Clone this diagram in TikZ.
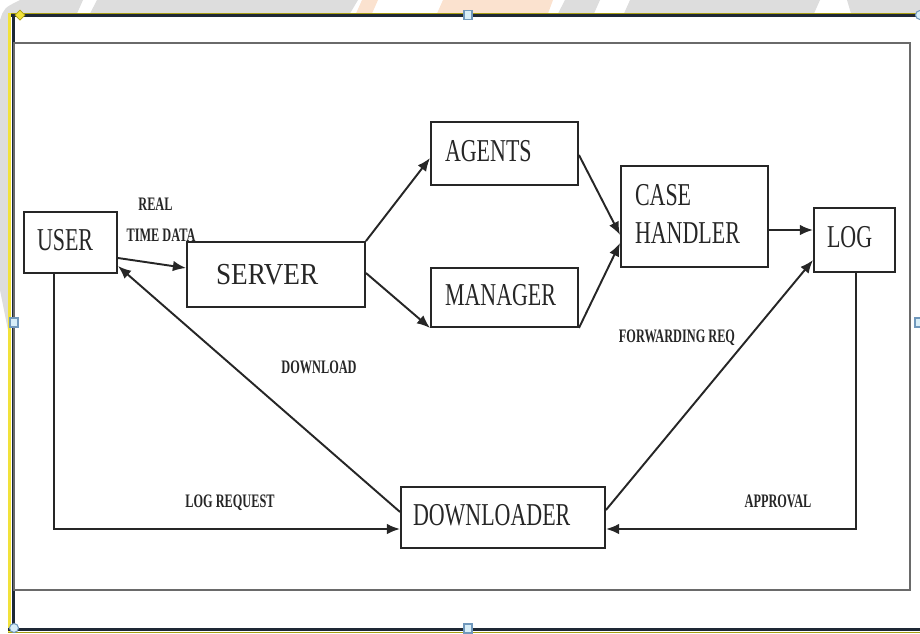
\documentclass[tikz,border=0pt]{standalone}
\usepackage{fontspec}
\setmainfont{Liberation Serif}
\usepackage{graphicx}
\usetikzlibrary{arrows.meta}

\definecolor{ink}{HTML}{262626}
\definecolor{framegray}{HTML}{6A6A6A}
\definecolor{navy}{HTML}{1E2835}
\definecolor{olive}{HTML}{A89E12}
\definecolor{brightyellow}{HTML}{F2E23A}
\definecolor{wm}{HTML}{DDDDDD}
\definecolor{wmorange}{HTML}{FBE2CF}
\definecolor{handlefill}{HTML}{D8EEF8}
\definecolor{handleedge}{HTML}{7098BC}

% box captions: Times-like, tall and narrow
\newcommand{\boxlbl}[1]{\scalebox{1}[1.45]{\fontsize{12.5pt}{15pt}\selectfont\begin{tabular}{@{}l@{}}#1\end{tabular}}}
% connector captions: small bold capitals
\newcommand{\flowlbl}[1]{\scalebox{1}[1.55]{\fontsize{7pt}{8pt}\selectfont\bfseries #1}}

\tikzset{
  box/.style={draw=ink, line width=1.1pt, fill=white, inner ysep=0pt, align=left, text=ink},
  link/.style={draw=ink, line width=1.1pt, -{Latex[length=7.5pt,width=6pt]}},
  flow/.style={inner sep=0pt, anchor=base, text=ink},
  handle/.style={draw=handleedge, fill=handlefill, line width=0.6pt}
}

\begin{document}
\begin{tikzpicture}[x=0.02cm, y=-0.02cm]
\useasboundingbox (0,0) rectangle (920,633);

% faint watermark behind the frame
\fill[wm] (20,0) -- (83,0) -- (77,13.5) -- (8,13.5) -- (8,330) -- (0,290) -- (0,20) .. controls (4,8) .. (20,0) -- cycle;
\fill[wm] (97,0) -- (358,0) -- (350,13.5) -- (90,13.5) -- cycle;
\fill[wmorange] (362,0) -- (378,0) -- (372,13.5) -- (356,13.5) -- cycle;
\fill[wmorange] (443,0) -- (553,0) -- (548,13.5) -- (437,13.5) -- cycle;
\fill[wm] (565,0) -- (600,0) -- (594,13.5) -- (558,13.5) -- cycle;
\fill[wm] (630,0) -- (820,0) -- (814,13.5) -- (624,13.5) -- cycle;
\fill[wm] (847,0) -- (920,0) -- (920,13.5) -- (851,13.5) -- cycle;

% outer frame
\draw[olive, line width=0.6pt] (8,13.5) -- (920,13.5);
\draw[navy, line width=1.7pt] (8,15.5) -- (920,15.5);
\draw[brightyellow, line width=1.7pt] (9.5,13) -- (9.5,633);
\draw[navy, line width=1.7pt] (13.5,14) -- (13.5,633);
\draw[navy, line width=1.7pt] (8,629.5) -- (920,629.5);
\draw[olive, line width=0.6pt] (8,632.5) -- (920,632.5);

% inner panel
\draw[framegray, line width=1.1pt] (14,43) rectangle (910,590);

% selection handles
\fill[brightyellow, draw=olive, line width=0.4pt] (20,10) -- (25,15) -- (20,20) -- (15,15) -- cycle;
\draw[handle] (464,10.5) rectangle (472,19.5);
\draw[handle] (10,318) rectangle (18,327);
\draw[handle] (915,318) rectangle (923,327);
\draw[handle] (464,624) rectangle (472,633);
\draw[handle] (14,628) circle[radius=4.5];
\draw[handle] (920,15) circle[radius=4.5];

% blocks
\node[box, minimum width=1.86cm, minimum height=1.22cm, text width=1.34cm, inner xsep=0.26cm] (user) at (70.5,242.5) {\boxlbl{USER}};
\node[box, minimum width=3.56cm, minimum height=1.30cm, text width=2.40cm, inner xsep=0.58cm] (server) at (276,274.5)
  {\scalebox{1}[1.12]{\fontsize{15.5pt}{18pt}\selectfont SERVER}};
\node[box, minimum width=2.94cm, minimum height=1.26cm, text width=2.38cm, inner xsep=0.28cm] (agents) at (504.5,153.5) {\boxlbl{AGENTS}};
\node[box, minimum width=2.94cm, minimum height=1.18cm, text width=2.38cm, inner xsep=0.28cm] (manager) at (504.5,297.5) {\boxlbl{MANAGER}};
\node[box, minimum width=2.94cm, minimum height=2.02cm, text width=2.38cm, inner xsep=0.28cm] (handler) at (694.5,216.5) {\boxlbl{CASE\\HANDLER}};
\node[box, minimum width=1.62cm, minimum height=1.28cm, text width=1.10cm, inner xsep=0.26cm] (log) at (854.5,240) {\boxlbl{LOG}};
\node[box, minimum width=4.08cm, minimum height=1.22cm, text width=3.60cm, inner xsep=0.24cm] (downloader) at (503,517.5) {\boxlbl{DOWNLOADER}};

% connectors
\draw[link] ([yshift=-0.31cm]user.east) -- ([yshift=0.13cm]server.west);
\draw[link] (server.north east) -- ([yshift=-0.09cm]agents.west);
\draw[link] ([yshift=0.03cm]server.east) -- (manager.south west);
\draw[link] ([yshift=-0.03cm]agents.east) -- ([yshift=-0.37cm]handler.west);
\draw[link] (manager.south east) -- ([yshift=-0.53cm]handler.west);
\draw[link] ([yshift=-0.27cm]handler.east) -- ([yshift=0.2cm]log.west);
\draw[link] ([yshift=0.15cm]downloader.east) -- ([yshift=-0.4cm]log.west);
\draw[link] ([yshift=0.11cm]downloader.west) -- ([yshift=-0.47cm]user.east);
\draw[link] ([xshift=-0.33cm]user.south) |- ([yshift=-0.23cm]downloader.west);
\draw[link] ([xshift=0.03cm]log.south) |- ([yshift=-0.23cm]downloader.east);

% connector captions
\node[flow] (lreal) at (155.5,210) {\flowlbl{REAL}};
\node[flow] (ltime) at (161,241.5) {\flowlbl{TIME DATA}};
\node[flow] (ldown) at (319,373) {\flowlbl{DOWNLOAD}};
\node[flow] (lfwd) at (677,342) {\flowlbl{FORWARDING REQ}};
\node[flow] (lreq) at (230,507) {\flowlbl{LOG REQUEST}};
\node[flow] (lapp) at (778,507) {\flowlbl{APPROVAL}};
\end{tikzpicture}
\end{document}
